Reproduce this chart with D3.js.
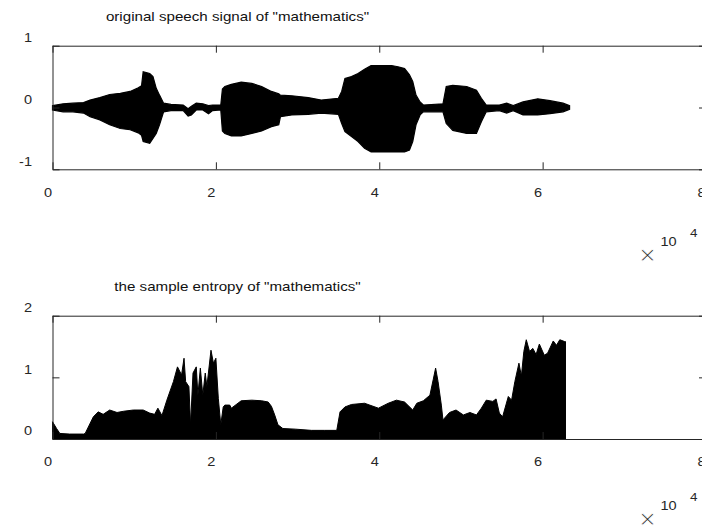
<!DOCTYPE html>
<html>
<head>
<meta charset="utf-8">
<script src="https://cdn.jsdelivr.net/npm/d3@7"></script>
<style>
  html, body { margin: 0; padding: 0; background: #fff; }
  svg { display: block; font-family: "Liberation Sans", Arial, sans-serif; }
</style>
</head>
<body>
<svg id="chart" width="702" height="531"></svg>
<script>
// Speech waveform envelope (time in units of 10^4 samples)
const waveT = [0.00, 0.13, 0.25, 0.38, 0.46, 0.58, 0.70, 0.83, 0.95, 1.05, 1.09, 1.11, 1.19, 1.23, 1.27, 1.31, 1.36, 1.45, 1.60, 1.66, 1.70, 1.76, 1.84, 1.91, 1.96, 2.06,
  2.08, 2.11, 2.19, 2.31, 2.44, 2.56, 2.68, 2.77, 2.79, 2.93, 3.13, 3.29, 3.50, 3.54, 3.58, 3.66, 3.74, 3.82, 3.90, 4.15, 4.23, 4.31, 4.37, 4.41, 4.45, 4.50, 4.54,
  4.78, 4.82, 4.90, 5.07, 5.19, 5.25, 5.31, 5.47, 5.56, 5.64, 5.76, 5.94, 6.09, 6.25, 6.33];
const waveUpper = [0.03, 0.06, 0.07, 0.08, 0.12, 0.16, 0.21, 0.23, 0.26, 0.32, 0.35, 0.58, 0.55, 0.50, 0.31, 0.20, 0.07, 0.05, 0.04, -0.02, 0.02, 0.07, 0.06, 0.03, 0.04, 0.04,
  0.30, 0.34, 0.375, 0.41, 0.39, 0.34, 0.26, 0.22, 0.20, 0.19, 0.16, 0.12, 0.15, 0.26, 0.47, 0.50, 0.55, 0.62, 0.68, 0.68, 0.66, 0.63, 0.53, 0.42, 0.20, 0.09, 0.04,
  0.06, 0.34, 0.36, 0.34, 0.28, 0.15, 0.04, 0.04, 0.07, 0.03, 0.09, 0.14, 0.11, 0.07, 0.03];
const waveLower = [-0.04, -0.07, -0.07, -0.09, -0.15, -0.20, -0.28, -0.34, -0.36, -0.41, -0.45, -0.55, -0.58, -0.50, -0.42, -0.28, -0.07, -0.05, -0.05, -0.14, -0.12, -0.04, -0.04, -0.10, -0.05, -0.04,
  -0.38, -0.42, -0.46, -0.46, -0.42, -0.38, -0.31, -0.28, -0.15, -0.12, -0.11, -0.09, -0.11, -0.26, -0.39, -0.47, -0.55, -0.66, -0.72, -0.72, -0.72, -0.72, -0.69, -0.55, -0.28, -0.12, -0.07,
  -0.07, -0.26, -0.37, -0.42, -0.42, -0.23, -0.07, -0.05, -0.09, -0.05, -0.12, -0.12, -0.10, -0.07, -0.03];

// Sample entropy along the same time axis
const entT = [0.00, 0.05, 0.09, 0.21, 0.38, 0.40, 0.50, 0.56, 0.62, 0.70, 0.79, 0.87, 0.99, 1.11, 1.19, 1.25, 1.29, 1.34, 1.40, 1.48, 1.53, 1.58, 1.61, 1.63, 1.67, 1.69,
  1.72, 1.76, 1.78, 1.81, 1.84, 1.87, 1.89, 1.94, 1.97, 2.00, 2.03, 2.06, 2.09, 2.11, 2.17, 2.19, 2.31, 2.44, 2.56, 2.64, 2.68, 2.72, 2.76, 2.82, 2.97, 3.17, 3.33, 3.48,
  3.52, 3.58, 3.66, 3.82, 3.99, 4.11, 4.21, 4.31, 4.41, 4.46, 4.54, 4.62, 4.66, 4.69, 4.72, 4.76, 4.78, 4.86, 4.94, 5.03, 5.11, 5.19, 5.25, 5.31, 5.39, 5.43, 5.47, 5.51,
  5.58, 5.62, 5.66, 5.71, 5.74, 5.77, 5.80, 5.84, 5.88, 5.92, 5.96, 6.02, 6.06, 6.13, 6.17, 6.21, 6.27, 6.28];
const entValue = [0.28, 0.17, 0.09, 0.08, 0.08, 0.09, 0.36, 0.44, 0.40, 0.47, 0.43, 0.45, 0.47, 0.47, 0.42, 0.40, 0.50, 0.38, 0.63, 0.93, 1.17, 1.04, 1.31, 0.93, 0.85, 0.23,
  1.07, 1.17, 0.71, 1.15, 0.71, 1.07, 0.85, 1.44, 1.23, 1.31, 0.66, 0.23, 0.52, 0.55, 0.55, 0.50, 0.62, 0.63, 0.62, 0.60, 0.53, 0.39, 0.23, 0.17, 0.16, 0.14, 0.14, 0.14,
  0.44, 0.52, 0.56, 0.58, 0.50, 0.58, 0.63, 0.60, 0.47, 0.58, 0.62, 0.71, 0.96, 1.15, 0.93, 0.55, 0.31, 0.43, 0.47, 0.39, 0.43, 0.39, 0.50, 0.63, 0.61, 0.65, 0.42, 0.36,
  0.69, 0.63, 0.93, 1.23, 1.02, 1.42, 1.61, 1.42, 1.47, 1.37, 1.54, 1.36, 1.39, 1.59, 1.52, 1.61, 1.58, 1.58];

// Axis ticks and titles
const xTicks = [0, 2, 4, 6, 8];
const waveYTicks = [-1, 0, 1];
const entYTicks = [0, 1, 2];
const waveTitle = 'original speech signal of "mathematics"';
const entTitle = 'the sample entropy of "mathematics"';

const svg = d3.select("#chart");
const axisColor = "#262626";
const stretch = 1.165;      // glyphs are drawn slightly wide
const tickFont = 12.5;
const fmt = d => String(d); // plain hyphen-minus for negatives

const x = d3.scaleLinear().domain([0, 8]).range([52.5, 706]);

function panel(top, bottom, yDomain, yTicks, title, titleBaseline, expBase) {
  const y = d3.scaleLinear().domain(yDomain).range([bottom, top]);
  const g = svg.append("g");

  const styleAxis = sel => {
    sel.selectAll("path.domain").attr("stroke", axisColor).attr("stroke-width", 1);
    sel.selectAll(".tick line").attr("stroke", axisColor).attr("stroke-width", 1);
    sel.attr("font-family", null).attr("font-size", null);
  };

  // bottom axis with labels, ticks pointing inward
  const xb = g.append("g").attr("transform", `translate(0,${bottom})`)
    .call(d3.axisBottom(x).tickValues(xTicks).tickSizeInner(-7).tickSizeOuter(0).tickPadding(0).tickFormat(fmt));
  styleAxis(xb);
  xb.selectAll(".tick text")
    .attr("y", null).attr("dy", null)
    .attr("fill", axisColor).attr("font-size", tickFont)
    .attr("transform", `translate(-5,27.4) scale(${stretch},1)`);

  // top edge
  const xt = g.append("g").attr("transform", `translate(0,${top})`)
    .call(d3.axisTop(x).tickValues(xTicks).tickSizeInner(-7).tickSizeOuter(0).tickFormat(""));
  styleAxis(xt);

  // left axis with labels
  const yl = g.append("g").attr("transform", `translate(${x(0)},0)`)
    .call(d3.axisLeft(y).tickValues(yTicks).tickSizeInner(-7).tickSizeOuter(0).tickPadding(0).tickFormat(fmt));
  styleAxis(yl);
  yl.selectAll(".tick text")
    .attr("x", null).attr("dy", null)
    .attr("fill", axisColor).attr("font-size", tickFont)
    .attr("text-anchor", "end")
    .attr("transform", `translate(-20.5,-4.2) scale(${stretch},1)`);

  // right edge
  const yr = g.append("g").attr("transform", `translate(${x(8)},0)`)
    .call(d3.axisRight(y).tickValues(yTicks).tickSizeInner(-7).tickSizeOuter(0).tickFormat(""));
  styleAxis(yr);

  // title
  g.append("text")
    .attr("transform", `translate(237.5,${titleBaseline}) scale(${stretch},1)`)
    .attr("text-anchor", "middle")
    .attr("font-size", 13)
    .attr("fill", "#111")
    .text(title);

  // exponent note: ×10^4
  const ex = g.append("g").attr("transform", `translate(0,${expBase})`);
  ex.append("text")
    .attr("x", 647.5).attr("y", 0)
    .attr("text-anchor", "middle")
    .attr("dominant-baseline", "central")
    .attr("font-family", "DejaVu Sans, sans-serif")
    .attr("font-size", 22)
    .attr("fill", axisColor)
    .attr("stroke", "#fff").attr("stroke-width", 0.8)
    .text("\u00d7");
  ex.append("text")
    .attr("transform", `translate(660.5,-8) scale(${stretch},1)`)
    .attr("font-size", tickFont).attr("fill", axisColor)
    .text("10");
  ex.append("text")
    .attr("transform", `translate(690,-17) scale(${stretch},1)`)
    .attr("font-size", 11.5).attr("fill", axisColor)
    .text("4");

  return { g, y };
}

// Top panel: waveform
const p1 = panel(45.7, 169.3, [-1, 1], waveYTicks, waveTitle, 20.7, 254);
const waveRows = waveT.map((t, i) => ({ t, hi: waveUpper[i], lo: waveLower[i] }));
p1.g.insert("path", ":first-child")
  .datum(waveRows)
  .attr("fill", "#000")
  .attr("stroke", "#000")
  .attr("stroke-width", 1.2)
  .attr("d", d3.area().x(d => x(d.t)).y0(d => p1.y(d.lo)).y1(d => p1.y(d.hi)));

// Bottom panel: sample entropy
const p2 = panel(315.7, 439, [0, 2], entYTicks, entTitle, 290.7, 518);
const entRows = entT.map((t, i) => ({ t, v: entValue[i] }));
p2.g.insert("path", ":first-child")
  .datum(entRows)
  .attr("fill", "#000")
  .attr("stroke", "#000")
  .attr("stroke-width", 1)
  .attr("d", d3.area().x(d => x(d.t)).y0(p2.y(0)).y1(d => p2.y(d.v)));
</script>
</body>
</html>
